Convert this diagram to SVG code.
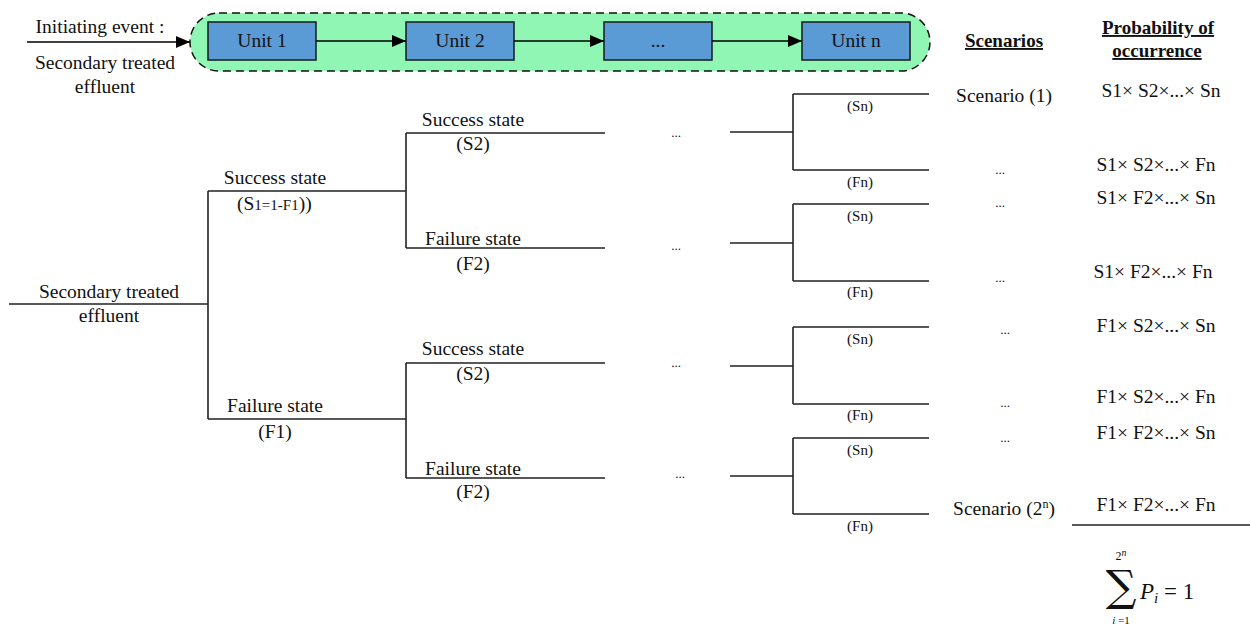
<svg xmlns="http://www.w3.org/2000/svg" width="1250" height="626" viewBox="0 0 1250 626">
<defs>
<marker id="ah" viewBox="0 0 14 12" refX="14" refY="6" markerWidth="14" markerHeight="12" markerUnits="userSpaceOnUse" orient="auto">
<path d="M0,0 L14,6 L0,12 Z" fill="#000"/>
</marker>
<style>
text{font-family:"Liberation Serif","Times New Roman",serif;fill:#111;}
.t{font-size:19.5px;}
.c{text-anchor:middle;}
.s{font-size:15px;}
.d{font-size:13px;}
.h{font-size:19px;font-weight:bold;text-decoration:underline;}
.ln{stroke:#222;stroke-width:1.6;fill:none;}
.box{fill:#5B9BD5;stroke:#1a1a1a;stroke-width:1.5;}
.arr{stroke:#000;stroke-width:1.6;fill:none;marker-end:url(#ah);}
</style>
</defs>
<rect width="1250" height="626" fill="#fff"/>

<g id="initiating">
<text class="t c" x="100" y="33">Initiating event :</text>
<text class="t c" x="105" y="69">Secondary treated</text>
<text class="t c" x="105" y="93">effluent</text>
</g>

<g id="container">
<rect x="190" y="13" width="740" height="58" rx="29" ry="29" fill="#8FF7B3" stroke="#111" stroke-width="1.5" stroke-dasharray="8,5"/>
</g>
<g id="unit1"><rect class="box" x="208" y="22" width="108" height="38"/><text class="t c" x="262" y="47">Unit 1</text></g>
<g id="unit2"><rect class="box" x="406" y="22" width="108" height="38"/><text class="t c" x="460" y="47">Unit 2</text></g>
<g id="unitdots"><rect class="box" x="604" y="22" width="108" height="38"/><text class="t c" x="658" y="47">...</text></g>
<g id="unitn"><rect class="box" x="802" y="22" width="108" height="38"/><text class="t c" x="856" y="47">Unit n</text></g>

<g id="connectors">
<line class="arr" x1="27" y1="42" x2="190" y2="42"/>
<line class="arr" x1="316" y1="41" x2="406" y2="41"/>
<line class="arr" x1="514" y1="41" x2="604" y2="41"/>
<line class="arr" x1="712" y1="41" x2="802" y2="41"/>

<path class="ln" d="M9,304 H208 M208,191 V419 M208,191 H406 M208,419 H406"/>
<path class="ln" d="M406,133 V248 M406,133 H605 M406,248 H605"/>
<path class="ln" d="M406,363 V478 M406,363 H605 M406,478 H605"/>
<path class="ln" d="M730,132 H793 M793,94 V170 M793,94 H929 M793,170 H929"/>
<path class="ln" d="M730,243 H793 M793,204 V281 M793,204 H929 M793,281 H929"/>
<path class="ln" d="M730,366 H793 M793,327 V404 M793,327 H929 M793,404 H929"/>
<path class="ln" d="M730,476 H793 M793,438 V514 M793,438 H929 M793,514 H929"/>
<line class="ln" x1="1072" y1="525" x2="1250" y2="525"/>
</g>

<g id="tree-root">
<text class="t c" x="109" y="298">Secondary treated</text>
<text class="t c" x="109" y="322">effluent</text>
</g>
<g id="level1">
<text class="t c" x="275" y="184">Success state</text>
<text class="t" x="237" y="210">(S<tspan font-size="15">1=1-F1</tspan>))</text>
<text class="t c" x="275" y="412">Failure state</text>
<text class="t c" x="275" y="438">(F1)</text>
</g>
<g id="level2">
<text class="t c" x="473" y="126">Success state</text>
<text class="t c" x="473" y="150">(S2)</text>
<text class="t c" x="473" y="245">Failure state</text>
<text class="t c" x="473" y="270">(F2)</text>
<text class="t c" x="473" y="355">Success state</text>
<text class="t c" x="473" y="380">(S2)</text>
<text class="t c" x="473" y="475">Failure state</text>
<text class="t c" x="473" y="498">(F2)</text>
<text class="d c" x="676" y="137">...</text>
<text class="d c" x="676" y="250">...</text>
<text class="d c" x="676" y="367">...</text>
<text class="d c" x="680" y="478">...</text>
</g>
<g id="leveln">
<text class="s c" x="860" y="111">(Sn)</text>
<text class="s c" x="860" y="187">(Fn)</text>
<text class="s c" x="860" y="221">(Sn)</text>
<text class="s c" x="860" y="297">(Fn)</text>
<text class="s c" x="860" y="344">(Sn)</text>
<text class="s c" x="860" y="420">(Fn)</text>
<text class="s c" x="860" y="455">(Sn)</text>
<text class="s c" x="860" y="531">(Fn)</text>
</g>

<g id="scenarios">
<text class="h c" x="1004" y="47">Scenarios</text>
<text class="t c" x="1004" y="102">Scenario (1)</text>
<text class="d c" x="1000" y="174">...</text>
<text class="d c" x="1000" y="207">...</text>
<text class="d c" x="1000" y="282">...</text>
<text class="d c" x="1005" y="334">...</text>
<text class="d c" x="1005" y="407">...</text>
<text class="d c" x="1005" y="442">...</text>
<text class="t c" x="1004" y="515">Scenario (2<tspan font-size="12" dy="-7">n</tspan><tspan dy="7">)</tspan></text>
</g>

<g id="probability">
<text class="h c" x="1158" y="34">Probability of</text>
<text class="h c" x="1157" y="57">occurrence</text>
<text class="t c" x="1161" y="97">S1× S2×...× Sn</text>
<text class="t c" x="1156" y="171">S1× S2×...× Fn</text>
<text class="t c" x="1156" y="204">S1× F2×...× Sn</text>
<text class="t c" x="1153" y="278">S1× F2×...× Fn</text>
<text class="t c" x="1156" y="332">F1× S2×...× Sn</text>
<text class="t c" x="1156" y="403">F1× S2×...× Fn</text>
<text class="t c" x="1156" y="439">F1× F2×...× Sn</text>
<text class="t c" x="1156" y="511">F1× F2×...× Fn</text>
</g>

<g id="sum">
<text x="1121" y="601" text-anchor="middle" style="font-family:'DejaVu Serif',serif;font-size:43px;">∑</text>
<text x="1121" y="560" text-anchor="middle" style="font-size:12px;">2<tspan font-style="italic" font-size="10" dy="-4">n</tspan></text>
<text x="1121" y="624" text-anchor="middle" style="font-size:11px;"><tspan font-style="italic">i</tspan> =1</text>
<text x="1140" y="599" style="font-size:23px;"><tspan font-style="italic">P</tspan><tspan font-style="italic" font-size="15" dy="4">i</tspan><tspan dy="-4"> = 1</tspan></text>
</g>
</svg>
